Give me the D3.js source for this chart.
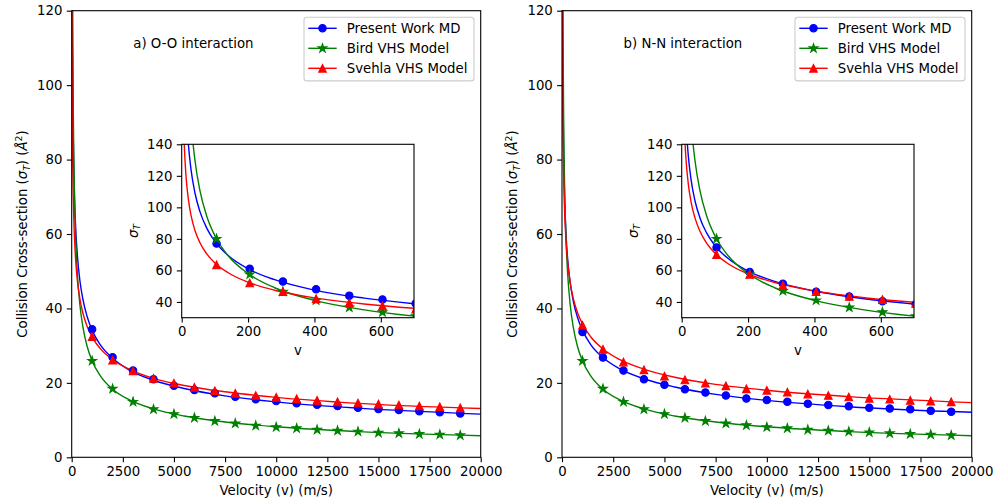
<!DOCTYPE html>
<html>
<head>
<meta charset="utf-8">
<script src="https://cdn.jsdelivr.net/npm/d3@7"></script>
<style>
  body { margin: 0; background: #fff; }
  svg { display: block; }
  text { font-family: "DejaVu Sans", sans-serif; fill: #000; }
</style>
</head>
<body>
<svg id="chart" width="997" height="504"></svg>
<script>
// ---- data -------------------------------------------------------------
const seriesNames = ["Present Work MD", "Bird VHS Model", "Svehla VHS Model"];
const panelLabels = ["a) O-O interaction", "b) N-N interaction"];

// marker velocities (m/s)
const velocityMain = [1000, 2000, 3000, 4000, 5000, 6000, 7000, 8000, 9000, 10000,
                      11000, 12000, 13000, 14000, 15000, 16000, 17000, 18000, 19000];
const velocityInset = [105, 205, 305, 405, 505, 605, 705];
// velocities at which the fitted curves are sampled
const velocityCurve = [5, 7, 10, 14, 20, 28, 40, 55, 75, 100, 140, 200, 280, 400, 550, 750,
                       1000, 1400, 2000, 2800, 4000, 5500, 7500, 10000, 14000, 20000];

// O-O interaction
const ooPresentMain = [34.4, 26.9, 23.3, 21.0, 19.2, 18.1, 17.2, 16.3, 15.6, 15.1,
                       14.5, 14.1, 13.8, 13.3, 13.0, 12.7, 12.4, 12.1, 11.8];
const ooBirdMain    = [25.9, 18.4, 14.9, 12.9, 11.6, 10.6, 9.75, 9.1, 8.5, 8.1,
                       7.8, 7.4, 7.15, 6.9, 6.6, 6.45, 6.25, 6.1, 5.9];
const ooSvehlaMain  = [32.4, 26.1, 23.2, 21.2, 19.9, 18.8, 17.9, 17.2, 16.6, 16.1,
                       15.7, 15.3, 14.9, 14.6, 14.3, 14.05, 13.8, 13.6, 13.3];
const ooPresentInset = [77, 61, 53, 48, 44, 41.5, 39];
const ooBirdInset    = [80, 57.5, 46.5, 41, 36.5, 33.5, 31];
const ooSvehlaInset  = [63.5, 52, 46.5, 42, 39.5, 37.5, 35.5];
const ooPresentCurve = [231.2, 204.8, 180.0, 159.4, 140.2, 124.1, 109.1, 97.3, 87.0, 78.4, 69.4, 61.0, 54.1,
                        47.5, 42.4, 37.9, 34.1, 30.2, 26.6, 23.5, 20.7, 18.5, 16.5, 14.9, 13.2, 11.6];
const ooBirdCurve    = [366.7, 310.0, 259.3, 219.2, 183.4, 155.0, 129.7, 110.6, 94.7, 82.0, 69.3, 58.0, 49.0,
                        41.0, 35.0, 29.9, 25.9, 21.9, 18.3, 15.5, 13.0, 11.1, 9.5, 8.2, 6.9, 5.8];
const ooSvehlaCurve  = [159.9, 144.4, 129.7, 117.2, 105.2, 95.0, 85.3, 77.5, 70.6, 64.7, 58.5, 52.5, 47.4,
                        42.6, 38.7, 35.2, 32.3, 29.2, 26.2, 23.7, 21.2, 19.3, 17.6, 16.1, 14.5, 13.1];

// N-N interaction
const nnPresentMain = [33.7, 26.8, 23.3, 21.0, 19.5, 18.3, 17.4, 16.6, 15.8, 15.4,
                       14.9, 14.4, 14.05, 13.7, 13.3, 13.1, 12.9, 12.5, 12.25];
const nnBirdMain    = [25.9, 18.4, 14.9, 12.9, 11.6, 10.6, 9.75, 9.1, 8.6, 8.1,
                       7.8, 7.4, 7.15, 6.9, 6.7, 6.45, 6.25, 6.1, 5.9];
const nnSvehlaMain  = [35.5, 29.0, 25.6, 23.5, 21.8, 20.8, 19.9, 19.2, 18.4, 18.0,
                       17.5, 17.0, 16.6, 16.2, 15.85, 15.6, 15.3, 15.1, 14.9];
const nnPresentInset = [74.5, 59, 51.5, 46.5, 43.5, 40.5, 38.5];
const nnBirdInset    = [80, 57.5, 47, 41, 36.5, 33.5, 31];
const nnSvehlaInset  = [70, 57.5, 50.5, 46.5, 43.5, 41.5, 39];
const nnPresentCurve = [214.3, 190.7, 168.5, 150.0, 132.5, 117.9, 104.2, 93.3, 83.8, 75.8, 67.5, 59.6, 53.0,
                        46.9, 42.0, 37.7, 34.1, 30.3, 26.8, 23.8, 21.1, 18.9, 16.9, 15.3, 13.6, 12.1];
const nnBirdCurve    = [366.7, 310.0, 259.3, 219.2, 183.4, 155.0, 129.7, 110.6, 94.7, 82.0, 69.3, 58.0, 49.0,
                        41.0, 35.0, 29.9, 25.9, 21.9, 18.3, 15.5, 13.0, 11.1, 9.5, 8.2, 6.9, 5.8];
const nnSvehlaCurve  = [173.2, 156.7, 140.9, 127.5, 114.6, 103.7, 93.3, 84.8, 77.3, 71.0, 64.2, 57.8, 52.3,
                        47.0, 42.7, 39.0, 35.8, 32.4, 29.1, 26.3, 23.7, 21.5, 19.6, 18.0, 16.3, 14.7];

// axes ticks and limits
const xTicksMain = [0, 2500, 5000, 7500, 10000, 12500, 15000, 17500, 20000];
const yTicksMain = [0, 20, 40, 60, 80, 100, 120];
const xTicksInset = [0, 200, 400, 600];
const yTicksInset = [40, 60, 80, 100, 120, 140];
const xDomainMain = [0, 20000], yDomainMain = [0, 120];
const xDomainInset = [0, 700], yDomainInset = [30, 140];

// ---- styling / layout ------------------------------------------------
const colors = ["#0000ff", "#008000", "#ff0000"];
const markerKinds = ["circle", "star", "triangle"];
const FONT = 13.3;
const TICK = 4.9;

const panels = [
  {
    key: "oo", label: panelLabels[0],
    main:  { x0: 71.7, x1: 480.7, y0: 10.7, y1: 457.3 },
    inset: { x0: 181.7, x1: 414.0, y0: 144.3, y1: 317.7 },
    curves: [ooPresentCurve, ooBirdCurve, ooSvehlaCurve],
    mainPts: [ooPresentMain, ooBirdMain, ooSvehlaMain],
    insetPts: [ooPresentInset, ooBirdInset, ooSvehlaInset]
  },
  {
    key: "nn", label: panelLabels[1],
    main:  { x0: 562.0, x1: 971.7, y0: 10.7, y1: 457.3 },
    inset: { x0: 681.7, x1: 914.0, y0: 144.3, y1: 317.7 },
    curves: [nnPresentCurve, nnBirdCurve, nnSvehlaCurve],
    mainPts: [nnPresentMain, nnBirdMain, nnSvehlaMain],
    insetPts: [nnPresentInset, nnBirdInset, nnSvehlaInset]
  }
];

const svg = d3.select("#chart");
const defs = svg.append("defs");

function starPath(R) {
  const r = R * 0.381966, pts = [];
  for (let i = 0; i < 10; i++) {
    const a = -Math.PI / 2 + i * Math.PI / 5;
    const rad = i % 2 ? r : R;
    pts.push([(rad * Math.cos(a)).toFixed(2), (rad * Math.sin(a)).toFixed(2)]);
  }
  return "M" + pts.map(p => p.join(",")).join("L") + "Z";
}
const markerPaths = {
  circle: d3.symbol(d3.symbolCircle, Math.PI * 3.7 * 3.7)(),
  star: starPath(4.6),
  triangle: "M0,-3.8L3.8,3.8L-3.8,3.8Z"
};

function drawMarker(g, kind, color, x, y) {
  g.append("path")
    .attr("d", markerPaths[kind])
    .attr("transform", `translate(${x},${y})`)
    .attr("fill", color)
    .attr("stroke", color)
    .attr("stroke-width", 1.1)
    .attr("stroke-linejoin", "miter");
}

function styleAxis(g) {
  g.selectAll(".domain").remove();
  g.selectAll(".tick line").attr("stroke", "#000").attr("stroke-width", 1.1);
  g.selectAll(".tick text")
    .style("font-family", '"DejaVu Sans", sans-serif')
    .style("font-size", FONT + "px")
    .attr("fill", "#000");
}

function drawAxes(parent, box, xDomain, yDomain, xTicks, yTicks, curves, pts, velocities, id) {
  const x = d3.scaleLinear().domain(xDomain).range([box.x0, box.x1]);
  const y = d3.scaleLinear().domain(yDomain).range([box.y1, box.y0]);
  const g = parent.append("g");

  g.append("rect")
    .attr("x", box.x0).attr("y", box.y0)
    .attr("width", box.x1 - box.x0).attr("height", box.y1 - box.y0)
    .attr("fill", "#fff");

  defs.append("clipPath").attr("id", id)
    .append("rect")
    .attr("x", box.x0).attr("y", box.y0)
    .attr("width", box.x1 - box.x0).attr("height", box.y1 - box.y0);

  const plot = g.append("g").attr("clip-path", `url(#${id})`);
  const line = d3.line()
    .x((d, i) => x(velocityCurve[i]))
    .y(d => y(d))
    .curve(d3.curveMonotoneX);

  curves.forEach((c, s) => {
    plot.append("path")
      .attr("d", line(c))
      .attr("fill", "none")
      .attr("stroke", colors[s])
      .attr("stroke-width", 1.4);
  });
  pts.forEach((arr, s) => {
    arr.forEach((v, i) => drawMarker(plot, markerKinds[s], colors[s], x(velocities[i]), y(v)));
  });

  const xa = g.append("g").attr("transform", `translate(0,${box.y1})`)
    .call(d3.axisBottom(x).tickValues(xTicks).tickSize(TICK).tickPadding(4.3).tickFormat(d3.format("d")));
  styleAxis(xa);
  const ya = g.append("g").attr("transform", `translate(${box.x0},0)`)
    .call(d3.axisLeft(y).tickValues(yTicks).tickSize(TICK).tickPadding(4.3).tickFormat(d3.format("d")));
  styleAxis(ya);

  g.append("rect")
    .attr("x", box.x0).attr("y", box.y0)
    .attr("width", box.x1 - box.x0).attr("height", box.y1 - box.y0)
    .attr("fill", "none").attr("stroke", "#000").attr("stroke-width", 1.1);
  return g;
}

panels.forEach((p, pi) => {
  const root = svg.append("g").attr("class", "panel-" + p.key);
  const m = p.main, ins = p.inset;

  drawAxes(root, m, xDomainMain, yDomainMain, xTicksMain, yTicksMain,
           p.curves, p.mainPts, velocityMain, "clip-main-" + p.key);

  // axis titles
  root.append("text")
    .attr("x", (m.x0 + m.x1) / 2).attr("y", 494.6)
    .attr("text-anchor", "middle").style("font-size", FONT + "px")
    .text("Velocity (v) (m/s)");

  const yl = root.append("text")
    .attr("transform", `translate(${m.x0 - 44.7},${(m.y0 + m.y1) / 2}) rotate(-90)`)
    .attr("text-anchor", "middle").style("font-size", FONT + "px");
  yl.append("tspan").text("Collision Cross-section (");
  yl.append("tspan").style("font-style", "italic").text("σ");
  yl.append("tspan").style("font-style", "italic").style("font-size", (FONT * 0.7) + "px")
    .attr("dy", 2.6).text("T");
  yl.append("tspan").attr("dy", -2.6).text(") (");
  yl.append("tspan").style("font-style", "italic").text("Å");
  yl.append("tspan").style("font-size", (FONT * 0.7) + "px").attr("dy", -5.5).text("2");
  yl.append("tspan").attr("dy", 5.5).text(")");

  // panel annotation
  root.append("text")
    .attr("x", m.x0 + 61.6).attr("y", 48.3)
    .style("font-size", FONT + "px")
    .text(p.label);

  // legend
  const lg = root.append("g").attr("transform", `translate(${m.x1 - 176.7},17.3)`);
  lg.append("rect")
    .attr("x", 0).attr("y", 0).attr("width", 170).attr("height", 63.6)
    .attr("rx", 3).attr("ry", 3)
    .attr("fill", "#fff").attr("fill-opacity", 0.8)
    .attr("stroke", "#cccccc").attr("stroke-width", 1.1);
  seriesNames.forEach((name, s) => {
    const cy = 11 + s * 20;
    lg.append("line")
      .attr("x1", 4.3).attr("x2", 32.7).attr("y1", cy).attr("y2", cy)
      .attr("stroke", colors[s]).attr("stroke-width", 1.4);
    drawMarker(lg, markerKinds[s], colors[s], 18.5, cy);
    lg.append("text")
      .attr("x", 42.7).attr("y", cy).attr("dy", "0.36em")
      .style("font-size", FONT + "px")
      .text(name);
  });

  // inset
  drawAxes(root, ins, xDomainInset, yDomainInset, xTicksInset, yTicksInset,
           p.curves, p.insetPts, velocityInset, "clip-inset-" + p.key);
  root.append("text")
    .attr("x", (ins.x0 + ins.x1) / 2).attr("y", 355)
    .attr("text-anchor", "middle").style("font-size", FONT + "px")
    .text("v");
  const il = root.append("text")
    .attr("transform", `translate(${ins.x0 - 44.2},${(ins.y0 + ins.y1) / 2}) rotate(-90)`)
    .attr("text-anchor", "middle").style("font-size", FONT + "px");
  il.append("tspan").style("font-style", "italic").text("σ");
  il.append("tspan").style("font-style", "italic").style("font-size", (FONT * 0.7) + "px")
    .attr("dy", 2.6).text("T");
});
</script>
</body>
</html>
